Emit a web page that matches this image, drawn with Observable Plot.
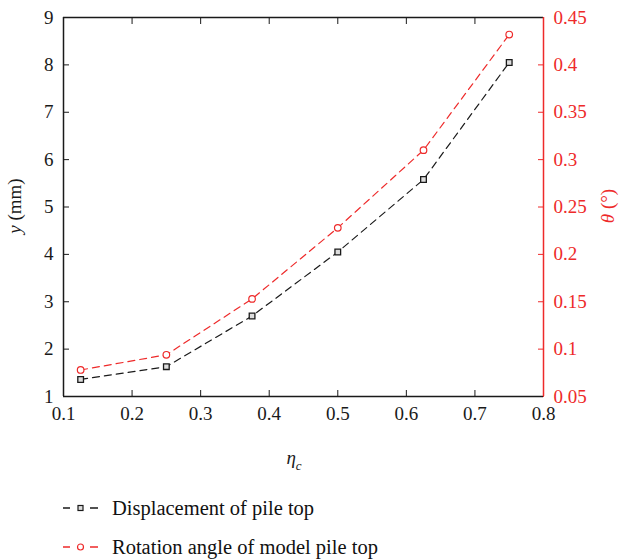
<!DOCTYPE html>
<html><head><meta charset="utf-8">
<script src="https://cdn.jsdelivr.net/npm/d3@7"></script>
<script src="https://cdn.jsdelivr.net/npm/@observablehq/plot@0.6"></script>
<style>
body{margin:0;background:#fff;font-family:"Liberation Serif","DejaVu Serif",serif;}
svg text{font-family:"Liberation Serif","DejaVu Serif",serif !important;}
#legend{position:relative;width:624px;height:80px;}
.row{position:absolute;left:0;height:24px;line-height:24px;font-size:20.5px;color:#111;white-space:nowrap;}
.row svg{position:absolute;left:60px;top:5px;}
.row span{position:absolute;left:112px;top:0;}
</style>
</head><body><div id="chart"></div><div id="legend"></div><script>
const eta = [0.125, 0.25, 0.375, 0.5, 0.625, 0.75];
const displacement = [1.36, 1.63, 2.70, 4.05, 5.58, 8.05];
const rotation = [0.078, 0.094, 0.153, 0.228, 0.310, 0.432];
const xTicks = [0.1, 0.2, 0.3, 0.4, 0.5, 0.6, 0.7, 0.8];
const yTicks = [1, 2, 3, 4, 5, 6, 7, 8, 9];
const thetaTicks = [0.05, 0.1, 0.15, 0.2, 0.25, 0.3, 0.35, 0.4, 0.45];
const seriesNames = ["Displacement of pile top", "Rotation angle of model pile top"];

const FONT = "'Liberation Serif', 'DejaVu Serif', serif";
const RED = "#ee2a2a";
const BLACK = "#1a1a1a";
// map theta (right axis) onto left-axis units: 0.05 -> 1, 0.45 -> 9
const toLeft = t => 1 + (t - 0.05) * 20;
const fromLeft = v => Math.round(((v - 1) / 20 + 0.05) * 100) / 100;

const dispData = eta.map((x, i) => ({x, y: displacement[i]}));
const rotData = eta.map((x, i) => ({x, y: toLeft(rotation[i])}));

const plot = Plot.plot({
  width: 624, height: 480,
  marginLeft: 63, marginRight: 81, marginTop: 17, marginBottom: 84,
  style: {fontFamily: FONT, fontSize: "19px", background: "white", color: BLACK},
  x: {domain: [0.1, 0.8]},
  y: {domain: [1, 9]},
  marks: [
    Plot.axisX({ticks: xTicks, anchor: "bottom", tickSize: -6, tickPadding: 16, tickFormat: d => String(d), label: null, fontSize: 19}),
    Plot.axisX({ticks: xTicks, anchor: "top", tickSize: -6, tickFormat: () => "", label: null}),
    Plot.axisY({ticks: yTicks, anchor: "left", tickSize: -6, tickPadding: 16, tickFormat: d => String(d), label: null, fontSize: 19}),
    Plot.axisY({ticks: thetaTicks.map(toLeft), anchor: "right", tickSize: -6, tickPadding: 16, tickFormat: d => String(fromLeft(d)), label: null, color: RED, fontSize: 19}),
    Plot.ruleY([1], {stroke: BLACK, strokeWidth: 1.5}),
    Plot.ruleY([9], {stroke: BLACK, strokeWidth: 1.5}),
    Plot.ruleX([0.1], {stroke: BLACK, strokeWidth: 1.5}),
    Plot.ruleX([0.8], {stroke: RED, strokeWidth: 1.5}),
    Plot.line(dispData, {x: "x", y: "y", stroke: BLACK, strokeWidth: 1.2, strokeDasharray: "7,5"}),
    Plot.dot(dispData, {x: "x", y: "y", symbol: "square", r: 3.2, stroke: BLACK, strokeWidth: 1.3, fill: "#ddd"}),
    Plot.line(rotData, {x: "x", y: "y", stroke: RED, strokeWidth: 1.2, strokeDasharray: "7,5"}),
    Plot.dot(rotData, {x: "x", y: "y", symbol: "circle", r: 3.3, stroke: RED, strokeWidth: 1.2, fill: "white"})
  ]
});
document.getElementById("chart").appendChild(plot);

const svg = d3.select(plot);
svg.selectAll("text").attr("font-family", FONT).style("font-family", FONT);

const addLabel = (x, y, rot, parts, color) => {
  const t = svg.append("text")
    .attr("transform", `translate(${x},${y}) rotate(${rot})`)
    .attr("text-anchor", "middle")
    .attr("dominant-baseline", "middle")
    .attr("fill", color)
    .style("font-family", FONT)
    .style("font-size", "19px");
  parts.forEach(p => {
    const ts = t.append("tspan").text(p.t);
    if (p.i) ts.style("font-style", "italic");
    if (p.sub) ts.attr("baseline-shift", "sub").style("font-size", "13px");
  });
};
addLabel(17, 206, -90, [{t: "y", i: true}, {t: " (mm)"}], BLACK);
addLabel(610, 206, -90, [{t: "θ", i: true}, {t: " (°)"}], RED);
addLabel(294, 460, 0, [{t: "η", i: true}, {t: "c", i: true, sub: true}], BLACK);

// legend
const legend = d3.select("#legend");
const rows = [
  {name: seriesNames[0], color: BLACK, symbol: "square", top: 16},
  {name: seriesNames[1], color: RED, symbol: "circle", top: 55}
];
rows.forEach(r => {
  const row = legend.append("div").attr("class", "row").style("top", r.top + "px");
  const s = row.append("svg").attr("width", 42).attr("height", 14);
  s.append("path").attr("d", "M3,7H38").attr("stroke", r.color).attr("stroke-width", 1.3)
    .attr("stroke-dasharray", "7,20,8").attr("fill", "none");
  if (r.symbol === "square") {
    s.append("rect").attr("x", 18).attr("y", 4.5).attr("width", 5).attr("height", 5)
      .attr("fill", "#ddd").attr("stroke", r.color).attr("stroke-width", 1.2);
  } else {
    s.append("circle").attr("cx", 20.5).attr("cy", 7).attr("r", 3)
      .attr("fill", "white").attr("stroke", r.color).attr("stroke-width", 1.2);
  }
  row.append("span").text(r.name);
});
</script></body></html>
